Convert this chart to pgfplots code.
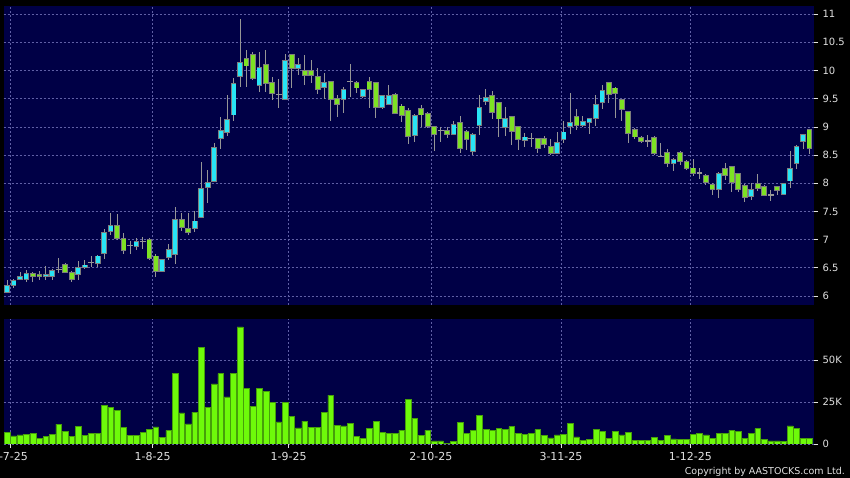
\documentclass[border=0pt]{standalone}
\usepackage{fontspec}
\setmainfont{DejaVu Sans}
\usepackage{pgfplots}
\usepackage{pgfplotstable}
\pgfplotsset{compat=1.18}

\definecolor{panel}{RGB}{0,0,70}
\definecolor{gridc}{RGB}{95,95,165}
\definecolor{upc}{RGB}{40,228,245}
\definecolor{dnc}{RGB}{125,226,35}
\definecolor{edgec}{RGB}{125,125,125}
\definecolor{wickc}{RGB}{150,150,150}
\definecolor{volc}{RGB}{110,250,10}
\definecolor{voledge}{RGB}{70,160,10}
\definecolor{labc}{RGB}{225,225,225}

% candles: index, open, high, low, close
\pgfplotstableread{
i o h l c
0 6.06 6.28 6.05 6.18
1 6.18 6.31 6.15 6.28
2 6.29 6.42 6.28 6.35
3 6.29 6.46 6.24 6.40
6 6.35 6.53 6.29 6.38
7 6.35 6.47 6.28 6.46
11 6.38 6.62 6.29 6.51
12 6.51 6.64 6.47 6.55
14 6.58 6.73 6.52 6.71
15 6.75 7.19 6.66 7.12
16 7.15 7.48 7.09 7.25
20 6.87 7.02 6.82 6.96
24 6.43 6.65 6.42 6.64
25 6.68 6.93 6.64 6.83
26 6.73 7.58 6.57 7.36
29 7.19 7.51 7.14 7.33
30 7.39 8.38 7.39 7.91
31 7.92 8.24 7.65 8.02
32 8.03 8.71 8.02 8.64
33 8.79 9.18 8.60 8.93
34 8.90 9.57 8.83 9.13
35 9.21 9.86 9.10 9.77
36 9.89 10.92 9.71 10.15
39 9.73 10.32 9.62 10.05
43 9.49 10.29 9.49 10.17
45 10.04 10.22 9.92 10.10
49 9.70 9.95 9.49 9.79
52 9.48 9.70 9.25 9.67
55 9.54 9.68 9.52 9.67
58 9.35 9.56 9.32 9.55
59 9.40 9.75 9.38 9.55
63 8.85 9.22 8.74 9.20
69 8.87 9.11 8.86 9.05
72 8.57 8.90 8.50 8.87
73 9.02 9.57 8.86 9.35
74 9.45 9.67 9.39 9.52
77 8.99 9.35 8.84 9.15
80 8.76 8.90 8.65 8.82
85 8.53 8.91 8.52 8.72
86 8.78 9.11 8.72 8.91
87 9.01 9.60 8.88 9.08
89 9.03 9.19 9.00 9.09
90 9.08 9.16 8.88 9.15
91 9.15 9.56 9.02 9.39
92 9.43 9.75 9.31 9.64
103 8.35 8.45 8.22 8.42
110 7.89 8.20 7.73 8.17
115 7.76 8.00 7.71 7.89
120 7.80 8.00 7.79 7.99
121 8.04 8.57 7.92 8.26
122 8.35 8.68 8.26 8.65
123 8.74 8.87 8.60 8.86
}\upT

\pgfplotstableread{
i o h l c
4 6.40 6.43 6.25 6.35
5 6.38 6.45 6.29 6.35
9 6.56 6.59 6.42 6.42
10 6.42 6.44 6.25 6.30
17 7.25 7.46 7.00 7.02
18 7.02 7.12 6.75 6.80
22 7.00 7.03 6.64 6.66
23 6.71 6.74 6.33 6.43
27 7.36 7.48 7.15 7.21
28 7.20 7.48 7.08 7.12
37 10.21 10.36 9.71 10.08
38 10.29 10.32 9.83 9.86
40 10.11 10.36 9.61 9.77
41 9.79 9.88 9.47 9.59
44 10.28 10.28 9.69 10.04
46 10.00 10.28 9.75 9.91
47 10.00 10.19 9.78 9.91
48 9.89 10.05 9.58 9.66
50 9.80 9.81 9.11 9.48
51 9.51 9.57 9.18 9.40
54 9.79 9.81 9.60 9.69
56 9.80 9.88 9.34 9.67
57 9.78 9.79 9.15 9.35
60 9.58 9.60 9.22 9.24
61 9.37 9.41 9.08 9.20
62 9.29 9.33 8.69 8.83
64 9.32 9.39 9.00 9.21
65 9.24 9.26 8.98 9.00
66 9.00 9.01 8.58 8.87
68 8.94 9.00 8.80 8.87
70 9.08 9.20 8.54 8.62
71 8.92 8.95 8.59 8.78
75 9.55 9.64 9.14 9.26
76 9.44 9.45 8.82 9.14
78 9.18 9.19 8.67 8.92
79 9.00 9.01 8.59 8.77
82 8.80 8.81 8.53 8.62
83 8.79 8.83 8.62 8.69
84 8.65 8.79 8.50 8.52
88 9.19 9.31 8.95 9.02
93 9.78 9.79 9.42 9.57
94 9.69 9.70 9.15 9.59
95 9.48 9.50 9.11 9.31
96 9.28 9.29 8.71 8.89
97 8.95 8.98 8.78 8.82
98 8.81 8.83 8.71 8.74
100 8.81 8.83 8.50 8.53
102 8.55 8.61 8.29 8.35
104 8.55 8.58 8.33 8.39
105 8.39 8.42 8.24 8.26
106 8.27 8.43 8.12 8.18
108 8.14 8.16 7.96 8.02
109 7.98 8.00 7.79 7.89
111 8.26 8.36 8.05 8.14
112 8.30 8.31 7.85 8.01
113 8.17 8.18 7.85 7.89
114 7.96 7.98 7.67 7.75
116 7.99 8.17 7.87 7.91
117 7.95 7.97 7.77 7.79
119 7.94 7.95 7.79 7.87
124 8.95 8.96 8.52 8.61
}\dnT

\pgfplotstableread{
i o h l
8 6.47 6.68 6.40
13 6.59 6.71 6.51
19 6.89 6.98 6.75
21 6.97 7.05 6.84
42 9.58 9.85 9.33
53 9.80 10.12 9.53
67 8.93 9.00 8.74
81 8.80 8.90 8.65
99 8.75 8.85 8.65
101 8.48 8.72 8.47
107 8.18 8.27 8.08
118 7.79 7.88 7.69
}\flatT

% volume in thousands
\pgfplotstableread{
i v
0 6.9
1 4.9
2 5.5
3 5.9
4 6.5
5 3.5
6 4.5
7 5.7
8 11.8
9 7.3
10 4.7
11 10.4
12 5.3
13 6.5
14 6.5
15 23.0
16 21.7
17 20.1
18 10.0
19 5.3
20 5.3
21 6.7
22 8.9
23 10.2
24 4.1
25 8.1
26 42.1
27 18.5
28 12.0
29 18.9
30 57.3
31 22.0
32 35.8
33 41.9
34 28.0
35 41.9
36 69.7
37 32.9
38 22.4
39 33.1
40 31.1
41 24.6
42 13.2
43 24.6
44 16.5
45 9.6
46 13.6
47 9.8
48 10.0
49 18.9
50 29.1
51 11.2
52 10.8
53 12.2
54 4.5
55 3.5
56 9.3
57 13.6
58 6.7
59 6.1
60 6.1
61 8.3
62 26.4
63 15.4
64 5.3
65 8.3
66 1.8
67 1.8
68 0.4
69 1.4
70 13.0
71 6.1
72 8.3
73 17.1
74 8.5
75 7.9
76 9.4
77 8.7
78 10.4
79 6.1
80 5.7
81 6.1
82 8.5
83 5.1
84 3.7
85 5.5
86 5.9
87 12.4
88 4.3
89 2.0
90 2.6
91 8.5
92 7.5
93 3.5
94 7.5
95 5.5
96 6.7
97 2.2
98 2.2
99 2.0
100 4.1
101 2.2
102 5.3
103 3.0
104 2.8
105 2.8
106 5.7
107 6.3
108 5.5
109 3.5
110 6.5
111 6.5
112 8.3
113 7.5
114 3.5
115 6.1
116 9.1
117 2.6
118 1.8
119 1.8
120 1.4
121 10.8
122 9.4
123 3.3
124 3.3
}\volT

\pgfplotsset{
  panelstyle/.style={
    scale only axis, width=810.5pt,
    xmin=-0.55, xmax=124.7,
    axis background/.style={fill=panel},
    axis line style={draw=none},
    grid=major,
    major grid style={draw=gridc, line width=0.6pt, dash pattern=on 2pt off 2pt},
    xtick={0.45,22.5,43.5,65.5,85.6,105.6},
    ytick pos=right, yticklabel pos=right,
    tick align=outside, major tick length=4pt,
    tick style={draw=labc, line width=0.7pt},
    yticklabel style={font=\fontsize{10}{12}\selectfont, text=labc, xshift=1pt, overlay},
  },
  wick/.style={forget plot, draw=none, mark=none,
    error bars/.cd, y dir=both, y explicit, error mark=none,
    error bar style={draw=wickc, line width=1pt, solid}},
  body/.style 2 args={forget plot, draw=none, mark=none,
    error bars/.cd, y dir=both, y explicit, error mark=none,
    error bar style={draw=#1, line width=#2, solid}},
}

\begin{document}
\begin{tikzpicture}
\fill[black] (0pt,0pt) rectangle (850pt,478pt);

\begin{axis}[panelstyle,
  at={(3.5pt,173pt)}, anchor=south west, height=299.3pt,
  ymin=5.84, ymax=11.15,
  ytick={6,6.5,7,7.5,8,8.5,9,9.5,10,10.5,11},
  yticklabels={6,6.5,7,7.5,8,8.5,9,9.5,10,10.5,11},
  xticklabels={}, xmajorticks=false,
]
% wicks
\addplot[wick] table[x=i, y expr={(\thisrow{h}+\thisrow{l})/2}, y error expr={(\thisrow{h}-\thisrow{l})/2}] {\upT};
\addplot[wick] table[x=i, y expr={(\thisrow{h}+\thisrow{l})/2}, y error expr={(\thisrow{h}-\thisrow{l})/2}] {\dnT};
\addplot[wick] table[x=i, y expr={(\thisrow{h}+\thisrow{l})/2}, y error expr={(\thisrow{h}-\thisrow{l})/2}] {\flatT};
% body outlines
\addplot[body={edgec}{5.8pt}] table[x=i, y expr={(\thisrow{o}+\thisrow{c})/2}, y error expr={(\thisrow{c}-\thisrow{o})/2+0.008}] {\upT};
\addplot[body={edgec}{5.8pt}] table[x=i, y expr={(\thisrow{o}+\thisrow{c})/2}, y error expr={(\thisrow{o}-\thisrow{c})/2+0.008}] {\dnT};
% body fills
\addplot[body={upc}{4.0pt}] table[x=i, y expr={(\thisrow{o}+\thisrow{c})/2}, y error expr={max((\thisrow{c}-\thisrow{o})/2-0.008,0.004)}] {\upT};
\addplot[body={dnc}{4.0pt}] table[x=i, y expr={(\thisrow{o}+\thisrow{c})/2}, y error expr={max((\thisrow{o}-\thisrow{c})/2-0.008,0.004)}] {\dnT};
% unchanged days
\addplot[forget plot, only marks, mark=-, mark size=2.9pt, mark options={draw=wickc, line width=1.2pt}] table[x=i, y=o] {\flatT};
\end{axis}

\begin{axis}[panelstyle,
  at={(3.5pt,34pt)}, anchor=south west, height=125pt,
  ymin=0, ymax=74.4,
  ytick={0,25,50}, yticklabels={0,25K,50K},
  xtick pos=bottom,
  xticklabels={2-7-25,1-8-25,1-9-25,2-10-25,3-11-25,1-12-25},
  xticklabel style={font=\fontsize{11}{13}\selectfont, text=labc, yshift=-1pt, overlay},
]
\addplot[ybar, bar width=0.88, fill=volc, draw=voledge, line width=0.5pt] table[x=i, y=v] {\volT};
\end{axis}

\node[anchor=base east, text=labc, font=\fontsize{9.5}{11}\selectfont, inner sep=0pt] at (845pt,3.5pt) {Copyright by AASTOCKS.com Ltd.};
\end{tikzpicture}
\end{document}
